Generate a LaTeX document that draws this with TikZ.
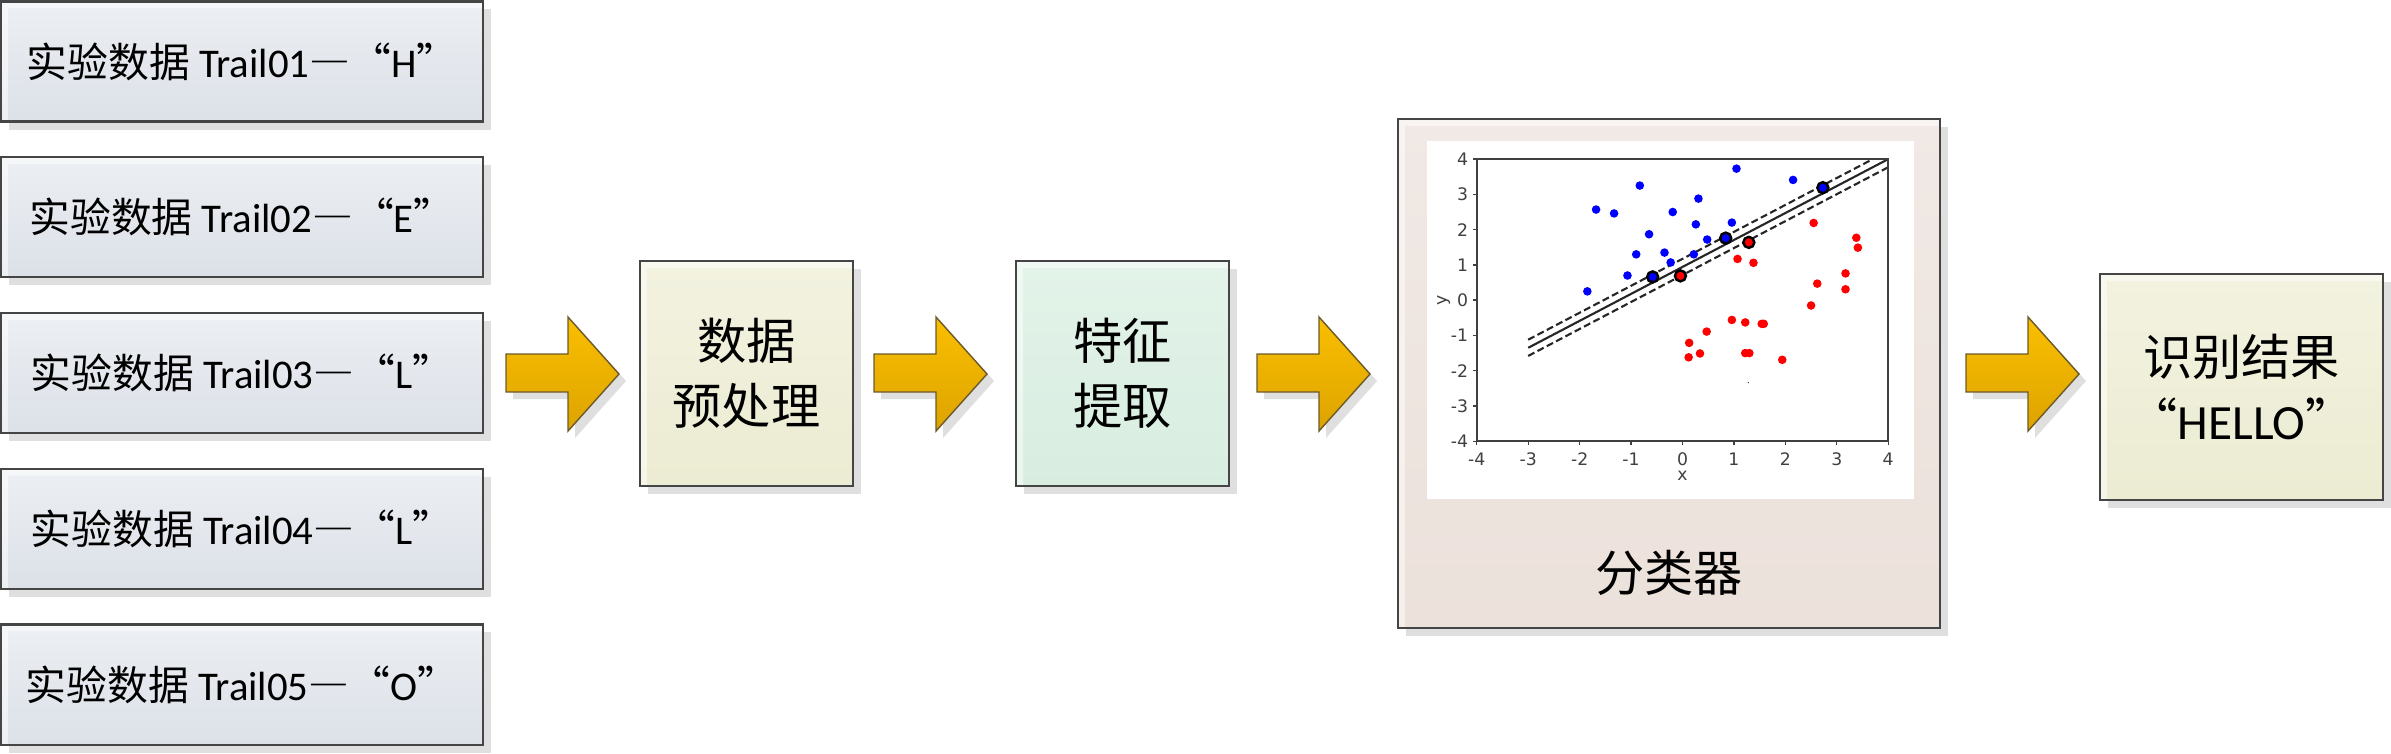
\documentclass[tikz,border=0pt]{standalone}
\usepackage{fontspec}
\setmainfont{Carlito}
\newfontfamily\cjk{Noto Sans CJK SC}
\newfontfamily\cjkq{Noto Sans CJK SC}[RawFeature=+fwid]
\newfontfamily\plotfont{DejaVu Sans}
\definecolor{shadowgray}{HTML}{DFDFDF}
\definecolor{boxborder}{HTML}{454545}
\definecolor{leftTop}{HTML}{ECEFF3}
\definecolor{leftBot}{HTML}{DCE1E8}
\definecolor{yelTop}{HTML}{F2F2E0}
\definecolor{yelBot}{HTML}{ECECD3}
\definecolor{grnTop}{HTML}{E3F3E9}
\definecolor{grnBot}{HTML}{D8EDE0}
\definecolor{pnkTop}{HTML}{F0E9E5}
\definecolor{pnkBot}{HTML}{ECE1DB}
\definecolor{arrTop}{HTML}{FABF00}
\definecolor{arrBot}{HTML}{DDA300}
\definecolor{arrBorder}{HTML}{6B5A2A}
\definecolor{tickgray}{HTML}{404040}
\definecolor{ptblue}{HTML}{0000FF}
\definecolor{ptred}{HTML}{FF0000}
\tikzset{
  shadowed/.style={preaction={fill=shadowgray, transform canvas={shift={(8,8)}}}},
  hilite/.style={path picture={
     \fill[white, fill opacity=0.5] (path picture bounding box.south west) -- (path picture bounding box.north west)
       -- (path picture bounding box.north east) -- ([yshift=-0.07cm]path picture bounding box.north east)
       -- ([shift={(0.07cm,-0.07cm)}]path picture bounding box.north west) -- ([xshift=0.07cm]path picture bounding box.south west) -- cycle;}},
  flowbox/.style={shadowed, hilite, draw=boxborder, line width=0.6pt, inner sep=0pt, align=center},
  inbox/.style={flowbox, minimum width=4.82cm, minimum height=1.2cm, top color=leftTop, bottom color=leftBot,
     font=\fontsize{11.6}{13}\selectfont},
  bigtext/.style={font=\fontsize{14}{18.4}\selectfont\cjk},
  blockarrow/.style={preaction={fill=shadowgray, transform canvas={shift={(7,7)}}}, draw=arrBorder, line width=0.4pt, top color=arrTop, bottom color=arrBot},
  tick/.style={font=\plotfont\fontsize{4.9}{5}\selectfont, text=tickgray, inner sep=0pt},
  bluept/.style={fill=ptblue},
  redpt/.style={fill=ptred},
}
\newcommand{\trailtext}[2]{{\cjk 实验数据} Trail#1{\cjkq —“}#2{\cjkq ”}}
\newcommand{\bigarrow}[1]{%
  \draw[blockarrow] (#1,354) -- ++(62,0) -- ++(0,-37) -- ++(51,57) -- ++(-51,57) -- ++(0,-39) -- ++(-62,0) -- cycle;}
\begin{document}
\begin{tikzpicture}[x=0.01cm,y=-0.01cm]
\useasboundingbox (0,0) rectangle (2391,753);

% input boxes
\node[inbox] (t1) at (242,61.5) {\trailtext{01}{H}};
\node[inbox] (t2) at (242,217.25) {\trailtext{02}{E}};
\node[inbox] (t3) at (242,373) {\trailtext{03}{L}};
\node[inbox] (t4) at (242,528.75) {\trailtext{04}{L}};
\node[inbox] (t5) at (242,684.5) {\trailtext{05}{O}};

% arrows
\bigarrow{506}
\bigarrow{874}
\bigarrow{1257}
\bigarrow{1966}

% preprocessing
\node[flowbox, bigtext, minimum width=2.13cm, minimum height=2.25cm, top color=yelTop, bottom color=yelBot] (pre) at (746.5,373.5) {数据\\预处理};
% feature extraction
\node[flowbox, bigtext, minimum width=2.13cm, minimum height=2.25cm, top color=grnTop, bottom color=grnBot] (feat) at (1122.5,373.5) {特征\\提取};
% classifier
\node[flowbox, minimum width=5.42cm, minimum height=5.09cm, top color=pnkTop, bottom color=pnkBot] (cls) at (1669,373.5) {};
\node[bigtext] (clslabel) at (1669,573) {分类器};
% result
\node[flowbox, bigtext, minimum width=2.83cm, minimum height=2.26cm, top color=yelTop, bottom color=yelBot] (res) at (2241.5,387) {识别结果\\{\cjkq “}{\rmfamily HELLO}{\cjkq ”}};

% plot area
\fill[white] (1427,141) rectangle (1914,499);
\begin{scope}[shift={(16.815cm,-3.0cm)}, x=0.514cm, y=0.3525cm]
  \begin{scope}
    \clip (-4,-4) rectangle (4,4);
    \draw[line width=0.6pt, black!85] (-3,-1.35) -- (4,4.0);
    \draw[line width=0.6pt, black!85, dash pattern=on 0.07cm off 0.035cm] (-3,-1.12) -- (3.70,4);
    \draw[line width=0.6pt, black!85, dash pattern=on 0.07cm off 0.035cm] (-3,-1.58) -- (4,3.77);
  \end{scope}
  \foreach \p in {(-1.68,2.57),(-1.33,2.46),(-0.83,3.25),(-0.19,2.50),(0.31,2.88),(1.05,3.73),(2.15,3.41),(-0.65,1.87),(0.26,2.15),(0.96,2.20),(0.48,1.72),(-0.90,1.30),(-0.35,1.35),(0.22,1.30),(-0.23,1.07),(-1.07,0.70),(-1.85,0.25)}
    \fill[bluept] \p circle[radius=0.043cm];
  \foreach \p in {(2.55,2.19),(3.38,1.77),(3.41,1.49),(1.07,1.17),(1.38,1.06),(3.17,0.76),(2.62,0.47),(3.17,0.31),(2.50,-0.15),(0.96,-0.56),(1.22,-0.63),(1.54,-0.67),(1.58,-0.67),(0.47,-0.89),(0.13,-1.21),(0.12,-1.62),(0.34,-1.51),(1.22,-1.50),(1.30,-1.50),(1.94,-1.69)}
    \fill[redpt] \p circle[radius=0.043cm];
  \foreach \p in {(-0.58,0.66),(0.84,1.76),(2.73,3.19)}
    \filldraw[bluept, draw=black, line width=0.7pt] \p circle[radius=0.055cm];
  \foreach \p in {(-0.04,0.69),(1.29,1.64)}
    \filldraw[redpt, draw=black, line width=0.7pt] \p circle[radius=0.055cm];
  \fill[black] (1.28,-2.34) circle[radius=0.006cm];
  \draw[line width=0.5pt, tickgray] (-4,-4) rectangle (4,4);
  \foreach \v in {-4,...,4} {
    \draw[line width=0.4pt, tickgray] (\v,-4) -- ++(0,-0.04cm);
    \draw[line width=0.4pt, tickgray] (-4,\v) -- ++(-0.04cm,0);
    \node[tick, anchor=north] (xt\v) at ([yshift=-0.11cm]\v,-4) {\v};
    \node[tick, anchor=east] (yt\v) at ([xshift=-0.08cm]-4,\v) {\v};
  }
  \node[tick, anchor=north] (xlab) at ([yshift=-0.29cm]0,-4) {x};
  \node[tick, rotate=90] (ylab) at ([xshift=-0.33cm]-4,0) {y};
\end{scope}
\end{tikzpicture}
\end{document}
